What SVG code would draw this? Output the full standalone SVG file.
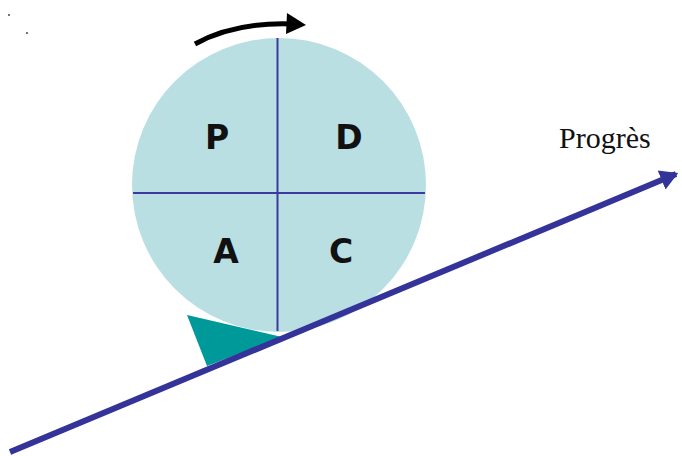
<svg xmlns="http://www.w3.org/2000/svg" width="682" height="456" viewBox="0 0 682 456">
<style>
.lbl{font-family:"DejaVu Sans","Liberation Sans",sans-serif;font-size:33px;font-weight:bold;fill:#111;text-anchor:middle}
.div{stroke:#3a3aa0;stroke-width:2;fill:none}
</style>
<defs>
<marker id="bluehead" markerWidth="4" markerHeight="4" refX="2.6" refY="2" orient="auto" markerUnits="strokeWidth">
<path d="M0,0.3 L3,2 L0,3.7 Z" fill="#333399"/>
</marker>
</defs>
<rect width="682" height="456" fill="#fff"/>
<rect x="8" y="14" width="2" height="2" fill="#777"/>
<rect x="26" y="32" width="2" height="2" fill="#777"/>
<g id="wheel">
<circle cx="279" cy="185" r="147" fill="#b9dfe3"/>
<line class="div" x1="277.5" y1="38" x2="277.5" y2="331"/>
<line class="div" x1="133" y1="193" x2="425" y2="193"/>
</g>
<g id="label-P"><text class="lbl" x="217" y="149">P</text></g>
<g id="label-D"><text class="lbl" x="349" y="149">D</text></g>
<g id="label-A"><text class="lbl" x="226" y="263">A</text></g>
<g id="label-C"><text class="lbl" x="341" y="263">C</text></g>
<g id="wedge"><polygon points="187,315 207,366 282,337" fill="#009999"/></g>
<g id="connectors">
<line x1="10" y1="452" x2="676" y2="174" stroke="#333399" stroke-width="6" marker-end="url(#bluehead)"/>
<path d="M195,44 Q235,22 292,24" fill="none" stroke="#000" stroke-width="5"/>
<path d="M287,13 L306,25 L286,34 Z" fill="#000"/>
</g>
<g id="label-progres"><text x="559" y="148" font-family="Liberation Serif, serif" font-size="30" fill="#111">Progrès</text></g>
</svg>
